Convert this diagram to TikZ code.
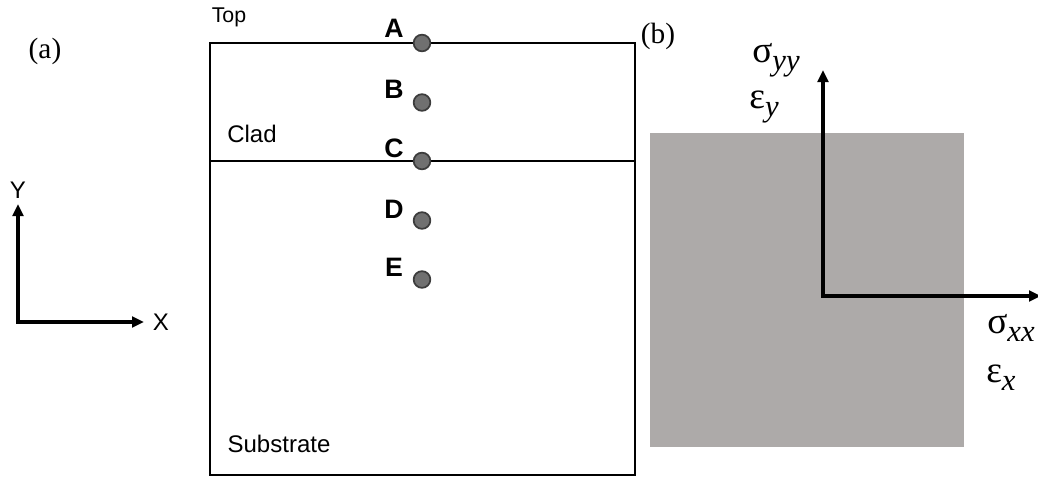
\documentclass[tikz,border=0pt]{standalone}
\usepackage{fontspec}
\setmainfont{Liberation Sans}
\newfontfamily\serfont{Liberation Serif}
\usetikzlibrary{arrows.meta}

\definecolor{slab}{HTML}{ADAAA9}
\definecolor{dotfill}{HTML}{707070}
\definecolor{dotline}{HTML}{3C3C3C}
\newcommand{\lowsub}[1]{\raisebox{-0.45ex}{\fontsize{23}{26}\selectfont\itshape #1}}

\begin{document}
\begin{tikzpicture}[x=0.75pt,y=-0.75pt,
    axis/.style={line width=3pt,line join=miter,{Triangle[length=9pt,width=8pt]}-{Triangle[length=9pt,width=8pt]}},
    wall/.style={line width=1.6pt}]

    \useasboundingbox (0,0) rectangle (1038,479);

    % (a) specimen
    \coordinate (tl) at (210,43);
    \coordinate (br) at (635,475);
    \coordinate (il) at (210,161);
    \coordinate (ir) at (635,161);
    \draw[wall] (tl) rectangle (br);
    \draw[wall] (il) -- (ir);

    \begin{scope}[every node/.style={circle,fill=dotfill,draw=dotline,line width=1.3pt,inner sep=0pt,minimum size=12.5pt}]
        \node (pA) at (422,43) {};
        \node (pB) at (422,102.5) {};
        \node (pC) at (422,161) {};
        \node (pD) at (422,220.5) {};
        \node (pE) at (422,279.5) {};
    \end{scope}

    \begin{scope}[every node/.style={font=\fontsize{20}{22}\selectfont\bfseries}]
        \node (lA) at (394,28) {A};
        \node (lB) at (394,89) {B};
        \node (lC) at (394,148) {C};
        \node (lD) at (394,209) {D};
        \node (lE) at (394,267) {E};
    \end{scope}

    \begin{scope}[every node/.style={font=\fontsize{18}{20}\selectfont}]
        \node[font=\fontsize{16}{18}\selectfont] (top) at (229,17) {Top};
        \node (clad) at (252,134) {Clad};
        \node (sub) at (279,444) {Substrate};
        \node (ylab) at (18,190) {Y};
        \node (xlab) at (161,322) {X};
    \end{scope}

    \begin{scope}[every node/.style={font=\fontsize{22}{24}\serfont}]
        \node (pa) at (45,51) {(a)};
        \node (pb) at (658,36) {(b)};
    \end{scope}

    % coordinate frame of (a)
    \coordinate (o1) at (18,322);
    \coordinate (yt) at (18,204);
    \coordinate (xt) at (144,322);
    \draw[axis] (yt) -- (o1) -- (xt);

    % (b) loaded element
    \fill[slab] (650,133) rectangle (964,447);
    \coordinate (o2) at (823,296);
    \coordinate (yt2) at (823,70);
    \coordinate (xt2) at (1041,296);
    \draw[axis] (yt2) -- (o2) -- (xt2);

    \begin{scope}[every node/.style={font=\fontsize{28}{30}\serfont,inner sep=0pt}]
        \node (syy) at (776,60) {σ\lowsub{yy}};
        \node (ey) at (764,107) {ε\lowsub{y}};
        \node[anchor=west] (sxx) at (987,328) {σ\lowsub{xx}};
        \node[anchor=west] (ex) at (986,378) {ε\lowsub{x}};
    \end{scope}

\end{tikzpicture}
\end{document}
